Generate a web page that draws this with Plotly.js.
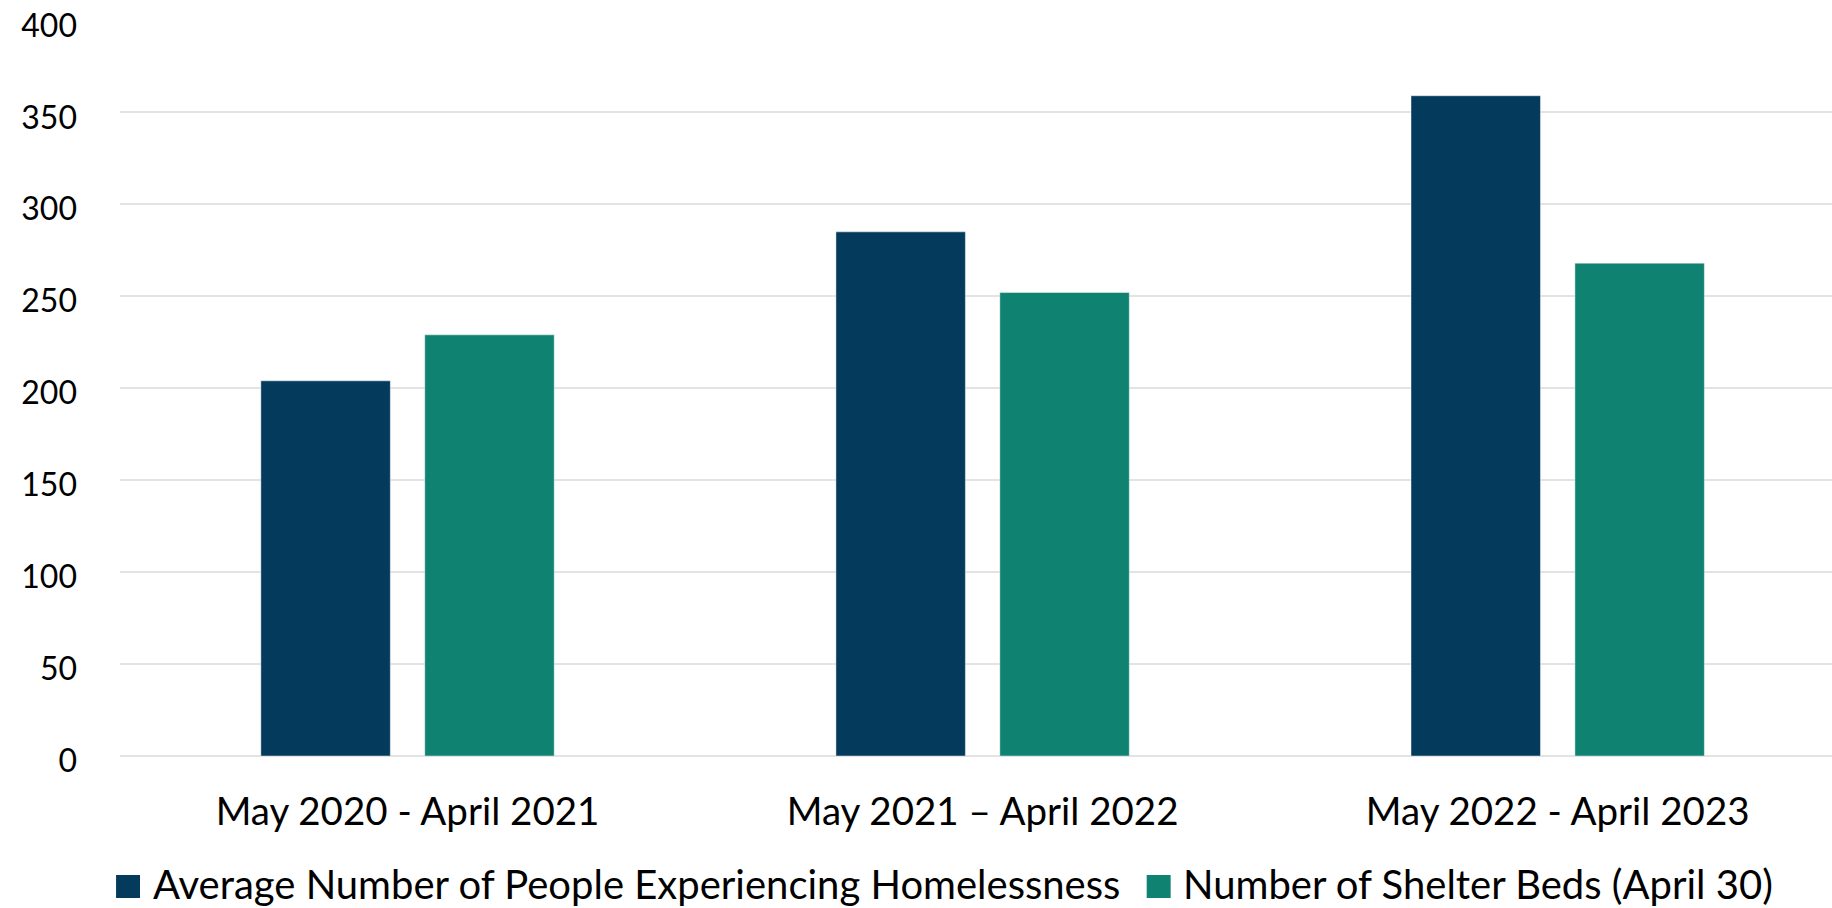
<!DOCTYPE html>
<html>
<head>
<meta charset="utf-8">
<script src="https://cdn.plot.ly/plotly-3.0.1.min.js"></script>
<style>html,body{margin:0;padding:0;background:#fff;}#chart{width:1832px;height:908px;}</style>
</head>
<body>
<div id="chart"></div>
<script>
const categories = ["May 2020 - April 2021", "May 2021 \u2013 April 2022", "May 2022 - April 2023"];
const homelessAvg = [204, 285, 359];
const shelterBeds = [229, 252, 268];
const seriesNames = ["Average Number of People Experiencing Homelessness", "Number of Shelter Beds (April 30)"];
const seriesColors = ["#043A5C", "#0F8272"];
const yTicks = [0, 50, 100, 150, 200, 250, 300, 350, 400];

const FONT = "Lato, 'Open Sans', sans-serif";
const traces = [
  {type: "bar", x: categories, y: homelessAvg, name: seriesNames[0],
   marker: {color: seriesColors[0], line: {color: "rgba(255,255,255,0.45)", width: 1}}},
  {type: "bar", x: categories, y: shelterBeds, name: seriesNames[1],
   marker: {color: seriesColors[1], line: {color: "rgba(255,255,255,0.45)", width: 1}}}
];

// Legend drawn as paper-positioned swatches + labels (larger swatches than Plotly's built-in legend)
const legendPos = [
  {sx0: -0.0023, sx1: 0.0117, tx: 0.0185},
  {sx0: 0.5997, sx1: 0.6137, tx: 0.6205}
];
const shapes = legendPos.map((p, i) => ({
  type: "rect", xref: "paper", yref: "paper", x0: p.sx0, x1: p.sx1, y0: -0.1617, y1: -0.1929,
  fillcolor: seriesColors[i], line: {width: 0}
}));
const annotations = legendPos.map((p, i) => ({
  xref: "paper", yref: "paper", x: p.tx, y: -0.1745, xanchor: "left", yanchor: "middle",
  text: seriesNames[i], showarrow: false, borderpad: 0,
  font: {family: FONT, size: 40, color: "#000"}
}));

const layout = {
  width: 1832, height: 908,
  margin: {l: 120, r: 0, t: 20, b: 152, pad: 0},
  paper_bgcolor: "#fff", plot_bgcolor: "#fff",
  barmode: "group", bargap: 0.43, bargroupgap: 0.21,
  font: {family: FONT, color: "#000", size: 30},
  xaxis: {type: "category", range: [-0.5, 2.477], showgrid: false, showline: false, zeroline: false,
          ticks: "", tickfont: {family: FONT, size: 38.5, color: "#000"}, ticklabelstandoff: 29},
  yaxis: {range: [0, 400.2], tickvals: yTicks, showgrid: true, gridcolor: "#e3e3e3", gridwidth: 2,
          zeroline: true, zerolinecolor: "#e3e3e3", zerolinewidth: 2, showline: false, ticks: "",
          ticklabeloverflow: "allow", ticklabelshift: 5,
          tickfont: {family: FONT, size: 32, color: "#000"}, ticklabelstandoff: 42},
  showlegend: false,
  shapes: shapes,
  annotations: annotations
};
Plotly.newPlot("chart", traces, layout, {displayModeBar: false, staticPlot: true});
</script>
</body>
</html>
